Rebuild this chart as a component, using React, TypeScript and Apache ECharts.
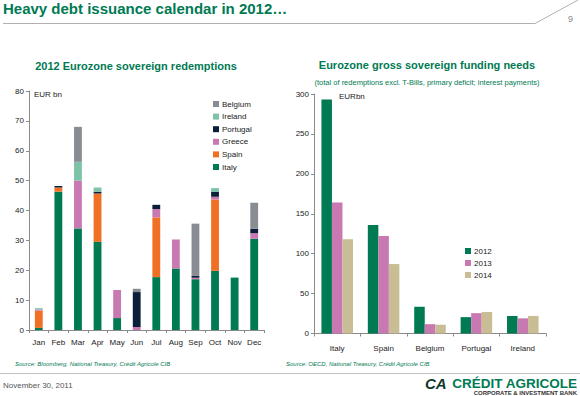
import React, { useEffect, useRef } from "react";
import * as echarts from "echarts";

const months = ["Jan", "Feb", "Mar", "Apr", "May", "Jun", "Jul", "Aug", "Sep", "Oct", "Nov", "Dec"];
const italy = [0.7, 46.3, 34.0, 29.5, 4.0, 0, 17.7, 20.6, 17.0, 19.8, 17.5, 30.5];
const spain = [5.8, 1.4, 0, 16.2, 0, 0, 20.0, 0, 0, 23.9, 0, 0];
const greece = [0.4, 0, 16.0, 0, 9.4, 1.0, 2.8, 9.7, 0.5, 0.9, 0, 1.9];
const portugal = [0, 0.5, 0, 0.6, 0, 11.7, 1.4, 0, 0.6, 1.6, 0, 1.5];
const ireland = [0.4, 0, 6.3, 1.4, 0, 0, 0, 0, 0, 1.3, 0.2, 0];
const belgium = [0, 0, 11.7, 0, 0, 1.1, 0, 0, 17.5, 0, 0, 8.7];

const countries = ["Italy", "Spain", "Belgium", "Portugal", "Ireland"];
const y2012 = [293, 136, 33.5, 20.5, 22];
const y2013 = [164, 122, 11.7, 25.5, 19];
const y2014 = [118, 87, 11, 27, 22];

const GREEN = "#007A53";
const FONT = "'Liberation Sans', Arial, sans-serif";

export default function App() {
  const ref = useRef<HTMLDivElement>(null);
  useEffect(() => {
    if (!ref.current) return;
    const chart = echarts.init(ref.current, undefined, { renderer: "svg" });
    const axisStyle = {
      axisLine: { show: true, lineStyle: { color: "#8a8a8a", width: 1 } },
      axisTick: { show: true, lineStyle: { color: "#8a8a8a" }, length: 3 },
      axisLabel: { color: "#222", fontSize: 8, fontFamily: FONT, margin: 5 },
      splitLine: { show: false },
    };
    const stackSeries = (name: string, data: number[], color: string) => ({
      name,
      type: "bar",
      stack: "r",
      xAxisIndex: 0,
      yAxisIndex: 0,
      data,
      barWidth: "40%",
      itemStyle: { color },
    });
    const groupSeries = (name: string, data: number[], color: string) => ({
      name,
      type: "bar",
      xAxisIndex: 1,
      yAxisIndex: 1,
      data,
      barGap: "0%",
      barCategoryGap: "32%",
      itemStyle: { color },
    });
    const legendText = { fontSize: 8, color: "#222", fontFamily: FONT, padding: [0, 0, 0, -2] };
    chart.setOption({
      animation: false,
      backgroundColor: "#fff",
      textStyle: { fontFamily: FONT },
      grid: [
        { left: 29, top: 91, width: 235, height: 239 },
        { left: 314, top: 94, width: 232, height: 239.5 },
      ],
      xAxis: [
        { type: "category", gridIndex: 0, data: months, ...axisStyle, axisLabel: { ...axisStyle.axisLabel, margin: 8, interval: 0 } },
        { type: "category", gridIndex: 1, data: countries, ...axisStyle, axisLabel: { ...axisStyle.axisLabel, margin: 11, interval: 0 } },
      ],
      yAxis: [
        { type: "value", gridIndex: 0, min: 0, max: 80, interval: 10, ...axisStyle },
        { type: "value", gridIndex: 1, min: 0, max: 300, interval: 50, ...axisStyle },
      ],
      legend: [
        {
          orient: "vertical",
          left: 208,
          top: 95,
          itemWidth: 6,
          itemHeight: 6,
          itemGap: 4.6,
          icon: "rect",
          textStyle: legendText,
          data: ["Belgium", "Ireland", "Portugal", "Greece", "Spain", "Italy"],
        },
        {
          orient: "vertical",
          left: 460,
          top: 242,
          itemWidth: 6,
          itemHeight: 6,
          itemGap: 4,
          icon: "rect",
          textStyle: legendText,
          data: ["2012", "2013", "2014"],
        },
      ],
      series: [
        stackSeries("Italy", italy, GREEN),
        stackSeries("Spain", spain, "#F07026"),
        stackSeries("Greece", greece, "#C879B2"),
        stackSeries("Portugal", portugal, "#0B1F3A"),
        stackSeries("Ireland", ireland, "#7CC3A8"),
        stackSeries("Belgium", belgium, "#878D93"),
        groupSeries("2012", y2012, GREEN),
        groupSeries("2013", y2013, "#C879B2"),
        groupSeries("2014", y2014, "#C8BD95"),
      ],
      graphic: [
        { type: "text", left: 3, top: 1, style: { text: "Heavy debt issuance calendar in 2012…", fill: GREEN, font: `bold 15px ${FONT}` } },
        { type: "polyline", shape: { points: [[3, 23.5], [535, 23.5], [578, 0]] }, style: { stroke: "#b0b0b0", lineWidth: 1, fill: null } },
        { type: "text", left: 568, top: 14, style: { text: "9", fill: "#888", font: `9px ${FONT}` } },
        { type: "text", x: 136, y: 66, style: { text: "2012 Eurozone sovereign redemptions", fill: GREEN, font: `bold 11px ${FONT}`, align: "center", verticalAlign: "middle" } },
        { type: "text", x: 427, y: 65, style: { text: "Eurozone gross sovereign funding needs", fill: GREEN, font: `bold 11px ${FONT}`, align: "center", verticalAlign: "middle" } },
        { type: "text", x: 427, y: 82, style: { text: "(total of redemptions excl. T-Bills, primary deficit; interest payments)", fill: GREEN, font: `7.5px ${FONT}`, align: "center", verticalAlign: "middle" } },
        { type: "text", x: 34, y: 94, style: { text: "EUR bn", fill: "#222", font: `8px ${FONT}`, verticalAlign: "middle" } },
        { type: "text", x: 339, y: 96, style: { text: "EURbn", fill: "#222", font: `8px ${FONT}`, verticalAlign: "middle" } },
        { type: "text", x: 15, y: 364, style: { text: "Source: Bloomberg, National Treasury, Crédit Agricole CIB", fill: GREEN, font: `italic 6px ${FONT}`, verticalAlign: "middle" } },
        { type: "text", x: 286, y: 364, style: { text: "Source: OECD, National Treasury, Crédit Agricole CIB", fill: GREEN, font: `italic 6px ${FONT}`, verticalAlign: "middle" } },
        { type: "line", shape: { x1: 0, y1: 373.5, x2: 580, y2: 373.5 }, style: { stroke: "#c0c0c0", lineWidth: 1 } },
        { type: "text", x: 3, y: 385, style: { text: "November 30, 2011", fill: "#555", font: `8px ${FONT}`, verticalAlign: "middle" } },
        { type: "text", x: 425, y: 383, style: { text: "CA", fill: "#0B3A2C", font: `italic bold 15px ${FONT}`, verticalAlign: "middle" } },
        { type: "text", x: 577, y: 383, style: { text: "CRÉDIT AGRICOLE", fill: GREEN, font: `bold 13.5px ${FONT}`, align: "right", verticalAlign: "middle" } },
        { type: "text", x: 577, y: 393, style: { text: "CORPORATE & INVESTMENT BANK", fill: "#333", font: `bold 6px ${FONT}`, align: "right", verticalAlign: "middle" } },
      ],
    });
    return () => chart.dispose();
  }, []);
  return <div ref={ref} style={{ position: "absolute", left: 0, top: 0, width: 580, height: 396 }} />;
}
